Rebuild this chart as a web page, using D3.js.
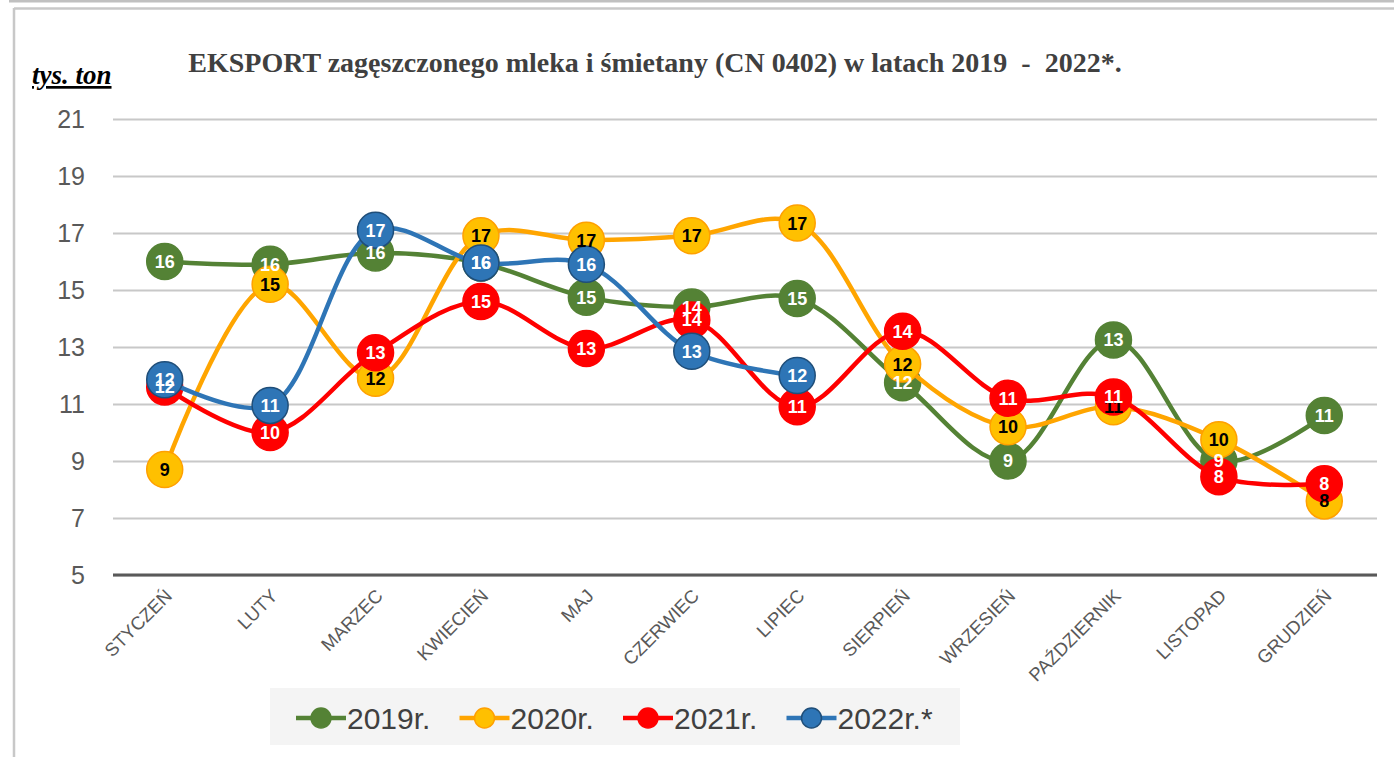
<!DOCTYPE html>
<html>
<head>
<meta charset="utf-8">
<script src="https://cdn.jsdelivr.net/npm/d3@7.9.0/dist/d3.min.js"></script>
<style>
  body { margin: 0; background: #fff; }
  svg { display: block; }
  text { font-family: "Liberation Sans", Arial, sans-serif; }
</style>
</head>
<body>
<svg id="chart" width="1394" height="757"></svg>
<script>
// months (x categories)
const months = ['STYCZEŃ', 'LUTY', 'MARZEC', 'KWIECIEŃ', 'MAJ', 'CZERWIEC',
  'LIPIEC', 'SIERPIEŃ', 'WRZESIEŃ', 'PAŹDZIERNIK', 'LISTOPAD', 'GRUDZIEŃ'];

// export values, thousand tonnes
const v2019 = [16.0, 15.9, 16.3, 15.95, 14.75, 14.4, 14.7, 11.75, 9.0, 13.25, 9.0, 10.6];
const v2020 = [8.7, 15.2, 11.9, 16.9, 16.75, 16.9, 17.35, 12.4, 10.2, 10.9, 9.75, 7.6];
const v2021 = [11.6, 10.0, 12.8, 14.6, 12.95, 13.95, 10.9, 13.55, 11.2, 11.25, 8.45, 8.2];
const v2022 = [11.85, 10.95, 17.1, 15.95, 15.9, 12.85, 12.0];

const yTicks = [5, 7, 9, 11, 13, 15, 17, 19, 21];

const series = [
  { name: '2019r.', values: v2019, line: '#548235', fill: '#548235', stroke: '#548235', label: '#fff' },
  { name: '2020r.', values: v2020, line: '#ffa500', fill: '#ffc000', stroke: '#ffa000', label: '#000' },
  { name: '2021r.', values: v2021, line: '#ff0000', fill: '#ff0000', stroke: '#ff0000', label: '#fff' },
  { name: '2022r.*', values: v2022, line: '#2e75b6', fill: '#2e75b6', stroke: '#1f4e79', label: '#fff' }
];

const svg = d3.select('#chart');

// frame
svg.append('rect').attr('x', 9).attr('y', 0).attr('width', 1385).attr('height', 2.5).attr('fill', '#c0c0c0');
svg.append('line').attr('x1', 14).attr('x2', 1394).attr('y1', 8.5).attr('y2', 8.5)
  .attr('stroke', '#c8c8c8').attr('stroke-width', 2.5);
svg.append('line').attr('x1', 14).attr('x2', 14).attr('y1', 8).attr('y2', 757)
  .attr('stroke', '#c8c8c8').attr('stroke-width', 2.5);

const x = d3.scalePoint().domain(months).range([112, 1377]).padding(0.5);
const y = d3.scaleLinear().domain([5, 21]).range([575, 119]);

// title
svg.append('text')
  .attr('x', 655).attr('y', 72)
  .attr('text-anchor', 'middle')
  .style('font-family', '"Liberation Serif", "Times New Roman", serif')
  .style('font-weight', 'bold').style('font-size', '28px')
  .style('white-space', 'pre')
  .attr('fill', '#404040')
  .text('EKSPORT zagęszczonego mleka i śmietany (CN 0402) w latach 2019  -  2022*.');

svg.append('text')
  .attr('x', 32).attr('y', 84)
  .style('font-family', '"Liberation Serif", "Times New Roman", serif')
  .style('font-weight', 'bold').style('font-style', 'italic').style('font-size', '27px')
  .style('text-decoration', 'underline')
  .attr('fill', '#000')
  .text('tys. ton');

// grid + y labels
const yAxis = d3.axisLeft(y).tickValues(yTicks).tickSize(-(1377 - 113)).tickPadding(28);
const gy = svg.append('g').attr('transform', 'translate(113,0)').call(yAxis);
gy.select('.domain').remove();
gy.selectAll('.tick line').attr('stroke', '#c8c8c8').attr('stroke-width', 2);
gy.selectAll('.tick text').attr('fill', '#595959').style('font-size', '25px')
  .style('font-family', '"Liberation Sans", Arial, sans-serif');

// x axis
const xAxis = d3.axisBottom(x).tickSize(0).tickPadding(0);
const gx = svg.append('g').attr('transform', 'translate(0,575)').call(xAxis);
gx.select('.domain').attr('d', 'M113,0H1377').attr('stroke', '#595959').attr('stroke-width', 3);
gx.selectAll('.tick text')
  .attr('fill', '#595959')
  .style('font-size', '18.5px')
  .style('font-family', '"Liberation Sans", Arial, sans-serif')
  .attr('text-anchor', 'end')
  .attr('dy', null)
  .attr('transform', 'translate(8,22) rotate(-45)');

// lines + markers
const line = d3.line()
  .x((d, i) => x(months[i]))
  .y(d => y(d))
  .curve(d3.curveCatmullRom.alpha(0.5));

series.forEach(s => {
  const g = svg.append('g');
  g.append('path')
    .attr('d', line(s.values))
    .attr('fill', 'none')
    .attr('stroke', s.line)
    .attr('stroke-width', 4.5)
    .attr('stroke-linejoin', 'round');
  g.selectAll('circle')
    .data(s.values)
    .join('circle')
    .attr('cx', (d, i) => x(months[i]))
    .attr('cy', d => y(d))
    .attr('r', 18)
    .attr('fill', s.fill)
    .attr('stroke', s.stroke)
    .attr('stroke-width', 1.5);
});

// data labels on top
series.forEach(s => {
  svg.append('g').selectAll('text')
    .data(s.values)
    .join('text')
    .attr('x', (d, i) => x(months[i]))
    .attr('y', d => y(d))
    .attr('dy', '0.36em')
    .attr('text-anchor', 'middle')
    .attr('fill', s.label)
    .style('font-weight', 'bold')
    .style('font-size', '18px')
    .text(d => d3.format('.0f')(d));
});

// legend
const legend = svg.append('g');
legend.append('rect')
  .attr('x', 270).attr('y', 688).attr('width', 690).attr('height', 57)
  .attr('fill', '#f4f4f4');

const item = legend.selectAll('g.item')
  .data(series)
  .join('g')
  .attr('class', 'item')
  .attr('transform', (d, i) => `translate(${296 + i * 163.5},718)`);
item.append('line')
  .attr('x1', 0).attr('x2', 50)
  .attr('stroke', d => d.line).attr('stroke-width', 4.5);
item.append('circle')
  .attr('cx', 25).attr('r', 10)
  .attr('fill', d => d.fill).attr('stroke', d => d.stroke).attr('stroke-width', 1.5);
item.append('text')
  .attr('x', 51).attr('y', 11)
  .attr('fill', '#404040')
  .style('font-size', '30px')
  .text(d => d.name);
</script>
</body>
</html>
